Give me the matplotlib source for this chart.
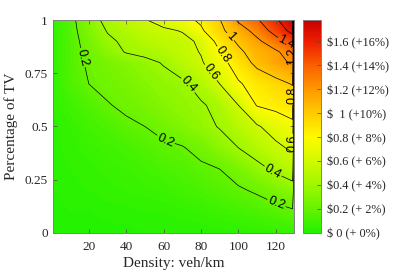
import numpy as np
import matplotlib
matplotlib.use("Agg")
import matplotlib.pyplot as plt
from matplotlib.colors import LinearSegmentedColormap, Normalize
from matplotlib.cm import ScalarMappable

# density (veh/km) and share of TV at the grid nodes
density = [1, 10, 20, 30, 40, 50, 60, 70, 80, 90, 100, 110, 120, 129, 130]
tv_share = [0, 0.1, 0.2, 0.3, 0.4, 0.5, 0.6, 0.7, 0.8, 0.85, 0.9, 0.95, 1.0]

# extra cost ($), one row per TV share
cost_tv000 = [0.00, 0.01, 0.01, 0.01, 0.01, 0.02, 0.02, 0.02, 0.02, 0.03, 0.03, 0.04, 0.05, 0.06, 0.02]
cost_tv010 = [0.01, 0.02, 0.02, 0.03, 0.03, 0.04, 0.04, 0.05, 0.06, 0.08, 0.10, 0.12, 0.15, 0.18, 0.04]
cost_tv020 = [0.02, 0.03, 0.04, 0.05, 0.06, 0.07, 0.08, 0.10, 0.12, 0.15, 0.18, 0.22, 0.28, 0.33, 0.05]
cost_tv030 = [0.02, 0.04, 0.05, 0.07, 0.08, 0.10, 0.12, 0.14, 0.17, 0.20, 0.27, 0.35, 0.43, 0.49, 0.06]
cost_tv040 = [0.03, 0.05, 0.07, 0.09, 0.11, 0.14, 0.17, 0.19, 0.25, 0.33, 0.40, 0.48, 0.56, 0.63, 0.08]
cost_tv050 = [0.03, 0.06, 0.10, 0.13, 0.17, 0.20, 0.25, 0.30, 0.35, 0.41, 0.49, 0.58, 0.68, 0.76, 0.08]
cost_tv060 = [0.04, 0.09, 0.14, 0.19, 0.23, 0.27, 0.31, 0.35, 0.38, 0.45, 0.60, 0.81, 0.85, 0.88, 0.10]
cost_tv070 = [0.05, 0.13, 0.20, 0.24, 0.27, 0.31, 0.35, 0.37, 0.47, 0.60, 0.78, 0.87, 0.94, 1.01, 0.10]
cost_tv080 = [0.05, 0.14, 0.22, 0.27, 0.31, 0.36, 0.41, 0.50, 0.58, 0.73, 0.89, 1.05, 1.15, 1.22, 0.10]
cost_tv085 = [0.05, 0.14, 0.24, 0.33, 0.41, 0.44, 0.47, 0.53, 0.61, 0.79, 0.96, 1.09, 1.17, 1.30, 0.10]
cost_tv090 = [0.05, 0.14, 0.26, 0.37, 0.43, 0.48, 0.52, 0.55, 0.63, 0.87, 1.03, 1.16, 1.32, 1.48, 0.10]
cost_tv095 = [0.05, 0.145, 0.29, 0.41, 0.47, 0.53, 0.57, 0.61, 0.77, 0.96, 1.10, 1.27, 1.48, 1.66, 0.10]
cost_tv100 = [0.05, 0.15, 0.32, 0.45, 0.52, 0.59, 0.67, 0.74, 0.83, 0.99, 1.23, 1.38, 1.57, 1.76, 0.10]

line_levels = [0.2, 0.4, 0.6, 0.8, 1.0, 1.2, 1.4, 1.6]
cbar_ticks = [0, 0.2, 0.4, 0.6, 0.8, 1.0, 1.2, 1.4, 1.6]
cbar_labels = ["$ 0 (+ 0%)", "$0.2 (+ 2%)", "$0.4 (+ 4%)", "$0.6 (+ 6%)", "$0.8 (+ 8%)",
               "$  1 (+10%)", "$1.2 (+12%)", "$1.4 (+14%)", "$1.6 (+16%)"]
x_ticks = [20, 40, 60, 80, 100, 120]
y_ticks = [0, 0.25, 0.5, 0.75, 1]
y_ticklabels = ["0", "0.25", "0.5", "0.75", "1"]

cmax = 1.78

plt.rcParams['font.family'] = ['Liberation Serif', 'DejaVu Serif']

# green -> yellow -> red
cmap = LinearSegmentedColormap.from_list("gyr", [
    (0.0, (0.13, 0.95, 0.0)),
    (0.2 / cmax, (0.40, 0.95, 0.0)),
    (0.4 / cmax, (0.62, 0.97, 0.0)),
    (0.6 / cmax, (0.82, 0.98, 0.0)),
    (0.8 / cmax, (1.0, 0.98, 0.0)),
    (1.0 / cmax, (1.0, 0.80, 0.0)),
    (1.2 / cmax, (1.0, 0.60, 0.0)),
    (1.4 / cmax, (0.98, 0.38, 0.0)),
    (1.6 / cmax, (0.93, 0.12, 0.0)),
    (1.0, (0.78, 0.0, 0.0)),
])
norm = Normalize(0, cmax)

Z = np.array([cost_tv000, cost_tv010, cost_tv020, cost_tv030, cost_tv040, cost_tv050,
              cost_tv060, cost_tv070, cost_tv080, cost_tv085, cost_tv090, cost_tv095,
              cost_tv100])
X, Y = np.meshgrid(density, tv_share)

fig = plt.figure(figsize=(4.15, 2.78), dpi=100)
ax = fig.add_axes([0.1284, 0.162, 0.581, 0.766])
cax = fig.add_axes([0.730, 0.162, 0.0435, 0.766])

ax.contourf(X, Y, Z, levels=np.linspace(0, cmax, 90), cmap=cmap, norm=norm, extend='both')
cs = ax.contour(X, Y, Z, levels=line_levels, colors='k', linewidths=0.5)

# where the labels sit in the original
label_spots = [(15.1, 0.82), (61.6, 0.45), (120, 0.13), (74, 0.70), (118.3, 0.286),
               (84.8, 0.75), (128, 0.42), (91.3, 0.836), (129.1, 0.648), (95.6, 0.92),
               (127.5, 0.83), (126, 0.897)]
txts = ax.clabel(cs, fmt=lambda v: f"{v:g}", fontsize=9, inline_spacing=2, manual=label_spots)
for t in txts:
    t.set_fontfamily('Liberation Sans')

ax.set_xlim(1, 130)
ax.set_ylim(0, 1)
ax.set_xticks(x_ticks)
ax.set_yticks(y_ticks)
ax.set_yticklabels(y_ticklabels)
ax.tick_params(direction='in', top=True, right=True, length=3, width=0.5,
               color='0.3', labelcolor='0.15', labelsize=9.5, pad=4)
ax.tick_params(axis='x', pad=6)
for s in ax.spines.values():
    s.set_color('0.5')
    s.set_linewidth(0.7)
ax.set_xlabel("Density: veh/km", fontsize=11, color='0.15', labelpad=3)
ax.set_ylabel("Percentage of TV", fontsize=11, color='0.15', labelpad=5)

cb = fig.colorbar(ScalarMappable(norm=norm, cmap=cmap), cax=cax)
cb.set_ticks(cbar_ticks)
cb.set_ticklabels(cbar_labels)
cax.tick_params(direction='in', length=3, width=0.5, color='0.3', labelcolor='0.15',
                labelsize=8.8, pad=4)
cb.outline.set_edgecolor('0.5')
cb.outline.set_linewidth(0.7)

fig.savefig("out.png", dpi=100)
